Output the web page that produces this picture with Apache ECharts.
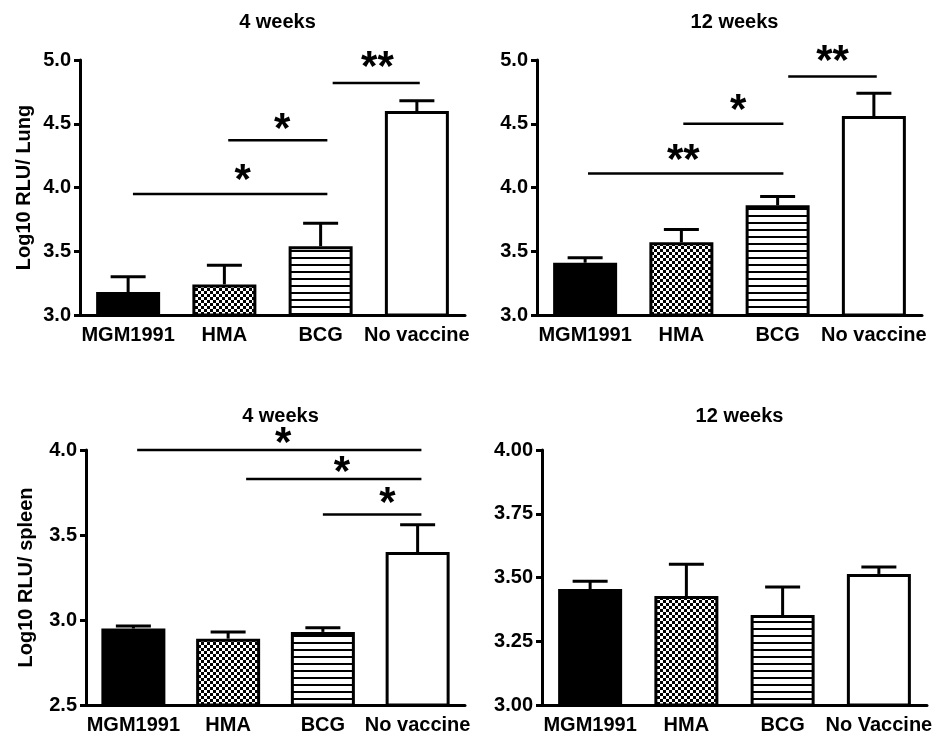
<!DOCTYPE html>
<html><head><meta charset="utf-8">
<script src="https://cdn.jsdelivr.net/npm/echarts@6/dist/echarts.min.js"></script>
<style>html,body{margin:0;padding:0;background:#fff}#c{width:947px;height:738px}</style>
</head><body><div id="c"></div>
<script>
// ---------- data ----------
const groupsA = ['MGM1991', 'HMA', 'BCG', 'No vaccine'];
const groupsB = ['MGM1991', 'HMA', 'BCG', 'No Vaccine'];
const panelTitles = ['4 weeks', '12 weeks', '4 weeks', '12 weeks'];
const yNames = ['Log10 RLU/ Lung', '', 'Log10 RLU/ spleen', ''];

const lung4Mean = [3.18, 3.24, 3.54, 4.60];
const lung4Sem = [0.12, 0.15, 0.18, 0.08];
const lung12Mean = [3.41, 3.57, 3.86, 4.56];
const lung12Sem = [0.04, 0.10, 0.07, 0.18];
const spleen4Mean = [2.95, 2.89, 2.93, 3.40];
const spleen4Sem = [0.015, 0.04, 0.025, 0.16];
const spleen12Mean = [3.455, 3.427, 3.353, 3.514];
const spleen12Sem = [0.03, 0.125, 0.11, 0.027];

const yMin = [3, 3, 2.5, 3];
const yMax = [5, 5, 4, 4];
const yStep = [0.5, 0.5, 0.5, 0.25];
const yDecimals = [1, 1, 1, 2];

// significance: [from position, to position, line level, stars, star position, star level]
const lung4Sig = [[0.05, 2.07, 3.95, '*', 1.19, 4.11], [1.04, 2.07, 4.37, '*', 1.60, 4.51], [2.125, 3.03, 4.82, '**', 2.59, 5.0]];
const lung12Sig = [[0.03, 2.06, 4.11, '**', 1.02, 4.27], [1.02, 2.06, 4.50, '*', 1.59, 4.66], [2.11, 3.03, 4.87, '**', 2.57, 5.05]];
const spleen4Sig = [[0.04, 3.04, 4.0, '*', 1.58, 4.08], [1.19, 3.04, 3.83, '*', 2.2, 3.91], [2.0, 3.04, 3.62, '*', 2.68, 3.73]];
const spleen12Sig = [];

// ---------- build ----------
const FONT = "'Liberation Sans', Arial, sans-serif";
const panels = [
  { cats: groupsA, mean: lung4Mean, sem: lung4Sem, sig: lung4Sig },
  { cats: groupsA, mean: lung12Mean, sem: lung12Sem, sig: lung12Sig },
  { cats: groupsA, mean: spleen4Mean, sem: spleen4Sem, sig: spleen4Sig },
  { cats: groupsB, mean: spleen12Mean, sem: spleen12Sem, sig: spleen12Sig }
];
const grids = [
  { left: 80, top: 60, width: 385, height: 255 },
  { left: 537, top: 60, width: 385, height: 255 },
  { left: 86, top: 450, width: 379, height: 255 },
  { left: 542, top: 450, width: 385, height: 255 }
];
const titleTops = [7, 7, 401, 401];
const nameGaps = [46, 0, 50, 0];

function makeChecker() {
  const c = document.createElement('canvas'); c.width = 6; c.height = 6;
  const g = c.getContext('2d');
  g.fillStyle = '#000'; g.fillRect(0, 0, 6, 6);
  g.fillStyle = '#fff'; g.fillRect(0, 0, 3, 3); g.fillRect(3, 3, 3, 3);
  return c;
}
function makeHLines() {
  const c = document.createElement('canvas'); c.width = 8; c.height = 7;
  const g = c.getContext('2d');
  g.fillStyle = '#fff'; g.fillRect(0, 0, 8, 7);
  g.fillStyle = '#000'; g.fillRect(0, 5, 8, 2);
  return c;
}
const fills = ['#000', { image: makeChecker(), repeat: 'repeat' }, { image: makeHLines(), repeat: 'repeat' }, '#fff'];

const axisLineStyle = { color: '#000', width: 3 };
const option = {
  animation: false,
  backgroundColor: '#fff',
  title: [], grid: [], xAxis: [], yAxis: [], series: []
};

panels.forEach((p, i) => {
  const g = grids[i];
  option.grid.push(Object.assign({ containLabel: false }, g));
  option.title.push({
    text: panelTitles[i], left: g.left + g.width / 2, top: titleTops[i], textAlign: 'center',
    textStyle: { fontFamily: FONT, fontSize: 20, fontWeight: 'bold', color: '#000' }
  });
  option.xAxis.push({
    type: 'category', gridIndex: i, data: p.cats,
    axisLine: { onZero: false, lineStyle: axisLineStyle },
    axisTick: { alignWithLabel: true, length: 6, lineStyle: axisLineStyle },
    axisLabel: { color: '#000', fontFamily: FONT, fontSize: 20, fontWeight: 'bold', margin: 10, interval: 0 },
    splitLine: { show: false }
  });
  option.yAxis.push({
    type: 'value', gridIndex: i, min: yMin[i], max: yMax[i], interval: yStep[i],
    name: yNames[i], nameLocation: 'middle', nameGap: nameGaps[i], nameRotate: 90,
    nameTextStyle: { fontFamily: FONT, fontSize: 20, fontWeight: 'bold', color: '#000' },
    axisLine: { show: true, onZero: false, lineStyle: axisLineStyle },
    axisTick: { show: true, length: 6, lineStyle: axisLineStyle },
    axisLabel: { color: '#000', fontFamily: FONT, fontSize: 20, fontWeight: 'bold', margin: 9,
      formatter: v => v.toFixed(yDecimals[i]) },
    splitLine: { show: false }
  });
  option.series.push({
    type: 'bar', xAxisIndex: i, yAxisIndex: i, barWidth: 64,
    data: p.mean.map((v, k) => ({ value: v, itemStyle: { color: fills[k] } })),
    itemStyle: { borderColor: '#000', borderWidth: 3 },
    z: 2
  });
  option.series.push({
    type: 'custom', xAxisIndex: i, yAxisIndex: i, z: 3,
    data: p.mean.map((v, k) => [k, v, p.sem[k]]),
    renderItem: (params, api) => {
      const x = api.value(0), m = api.value(1), e = api.value(2);
      const p0 = api.coord([x, m]), p1 = api.coord([x, m + e]);
      const hw = 17.5;
      return { type: 'group', children: [
        { type: 'line', shape: { x1: p0[0], y1: p0[1], x2: p1[0], y2: p1[1] }, style: { stroke: '#000', lineWidth: 3 } },
        { type: 'line', shape: { x1: p1[0] - hw, y1: p1[1], x2: p1[0] + hw, y2: p1[1] }, style: { stroke: '#000', lineWidth: 3 } }
      ] };
    }
  });
});

// hidden value x axes for significance annotations
panels.forEach((p, i) => {
  const ax = option.xAxis.length;
  option.xAxis.push({ type: 'value', gridIndex: i, min: -0.5, max: 3.5, show: false });
  p.sig.forEach(s => {
    option.series.push({
      type: 'line', xAxisIndex: ax, yAxisIndex: i, clip: false, symbol: 'none', silent: true,
      data: [[s[0], s[2]], [s[1], s[2]]],
      lineStyle: { color: '#000', width: 2.5 }, z: 4
    });
  });
  if (p.sig.length) {
    option.series.push({
      type: 'custom', xAxisIndex: ax, yAxisIndex: i, clip: false, z: 5,
      data: p.sig.map(s => [s[4], s[5]]),
      renderItem: (params, api) => {
        const pt = api.coord([api.value(0), api.value(1)]);
        const fs = 42;
        return { type: 'text', x: pt[0], y: pt[1] + 0.2 * fs,
          style: { text: p.sig[params.dataIndex][3], fontFamily: FONT, fontSize: fs, fontWeight: 'bold',
            fill: '#000', align: 'center', verticalAlign: 'middle' } };
      }
    });
  }
});

const chart = echarts.init(document.getElementById('c'), null, { renderer: 'canvas' });
chart.setOption(option);
</script>
</body></html>
